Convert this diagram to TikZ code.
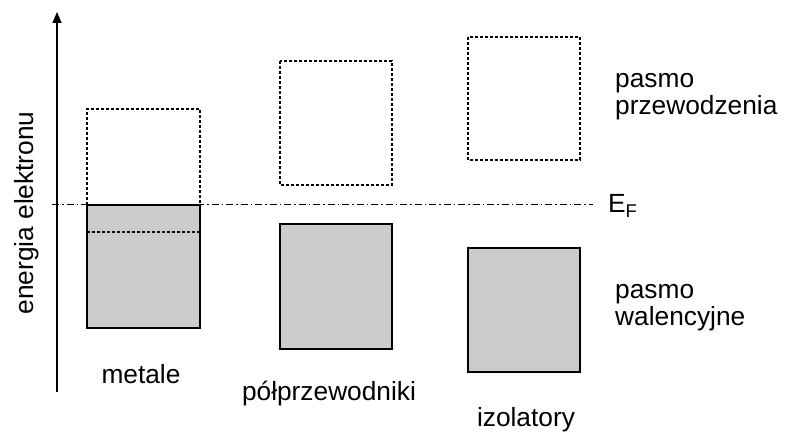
\documentclass[tikz,border=0pt]{standalone}
\usepackage{fontspec}
\setmainfont{Liberation Sans}
\usetikzlibrary{arrows.meta}
\begin{document}
\begin{tikzpicture}[x=1pt,y=-1pt,
  band/.style={draw=black,line width=1.3pt,fill=black!20},
  empty/.style={draw=black,line width=1.3pt,dash pattern=on 3pt off 2pt},
  lbl/.style={font=\fontsize{26.3}{28}\selectfont,inner sep=0pt}]
\useasboundingbox (0,0) rectangle (785,435);
% axis
\coordinate (a0) at (57,392);
\coordinate (a1) at (57,12);
\draw[line width=1.5pt,-{Triangle[length=11pt,width=9pt]}] (a0) -- (a1);
\node[lbl,rotate=90,anchor=base] (ylab) at (33,213) {energia elektronu};
% metal
\draw[band] (87,205) rectangle (200,328);
\draw[empty] (87,205) -- (87,109) -- (200,109) -- (200,205);
\draw[empty] (87,232) -- (200,232);
% semiconductor
\draw[empty] (280,61) rectangle (392,185);
\draw[band] (280,224) rectangle (392,349);
% insulator
\draw[empty] (468,37) rectangle (580,160);
\draw[band] (468,248) rectangle (580,372);
% Fermi level
\coordinate (f0) at (52,205);
\coordinate (f1) at (593,205);
\draw[line width=1pt,dash pattern=on 7pt off 3pt on 1.5pt off 3pt] (f0) -- (f1);
\node[lbl,anchor=base west] (ef) at (608,213) {E\textsubscript{F}};
% labels
\node[lbl,anchor=base] (m) at (141,384) {metale};
\node[lbl,anchor=base] (p) at (329,401) {półprzewodniki};
\node[lbl,anchor=base] (i) at (526,427) {izolatory};
\node[lbl,anchor=base west] (c1) at (615,88) {pasmo};
\node[lbl,anchor=base west] (c2) at (615,115) {przewodzenia};
\node[lbl,anchor=base west] (v1) at (615,299) {pasmo};
\node[lbl,anchor=base west] (v2) at (615,326) {walencyjne};
\end{tikzpicture}
\end{document}
